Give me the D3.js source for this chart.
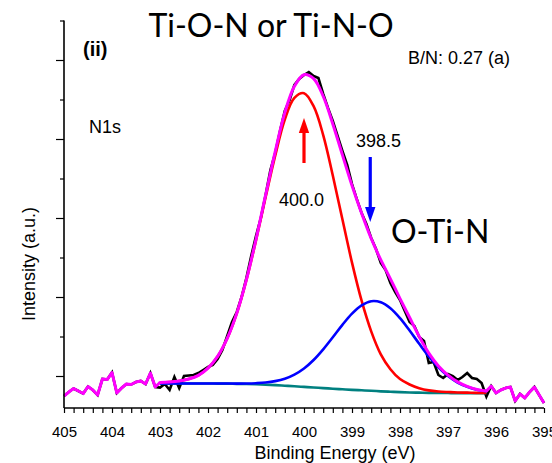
<!DOCTYPE html>
<html>
<head>
<meta charset="utf-8">
<script src="https://cdn.jsdelivr.net/npm/d3@7"></script>
<style>
  html, body { margin: 0; padding: 0; background: #fff; }
  svg { display: block; }
  text { font-family: "Liberation Sans", Arial, sans-serif; fill: #000; }
</style>
</head>
<body>
<svg id="chart" width="552" height="463"></svg>
<script>
// N1s XPS spectrum: measured counts and a two-component peak fit on a Shirley background.

// Measured spectrum, [binding energy (eV), counts]
const rawSpectrum = [
  [405.0, 747], [404.9, 797], [404.8, 842], [404.7, 810], [404.6, 778], [404.5, 867],
  [404.4, 823], [404.3, 759], [404.2, 962], [404.1, 955], [404.0, 1044], [403.9, 785],
  [403.8, 848], [403.7, 899], [403.6, 892], [403.5, 924], [403.4, 937], [403.3, 899],
  [403.2, 1038], [403.1, 861], [403.0, 854], [402.9, 899], [402.8, 823], [402.7, 987],
  [402.6, 848], [402.5, 1000], [402.4, 1006], [402.3, 1013], [402.2, 1038], [402.1, 1076],
  [402.0, 1114], [401.9, 1139], [401.8, 1215], [401.7, 1329], [401.6, 1506], [401.5, 1684],
  [401.4, 1810], [401.3, 2000], [401.2, 2240], [401.1, 2519], [401.0, 2772], [400.9, 3000],
  [400.8, 3291], [400.7, 3607], [400.6, 3823], [400.5, 4101], [400.4, 4354], [400.3, 4494],
  [400.2, 4684], [400.1, 4760], [400.0, 4810], [399.9, 4848], [399.8, 4797], [399.7, 4772],
  [399.6, 4570], [399.5, 4392], [399.4, 4228], [399.3, 4038], [399.2, 3848], [399.1, 3671],
  [399.0, 3430], [398.9, 3240], [398.8, 3063], [398.7, 2924], [398.6, 2747], [398.5, 2608],
  [398.4, 2430], [398.3, 2342], [398.2, 2177], [398.1, 2063], [398.0, 1962], [397.9, 1823],
  [397.8, 1684], [397.7, 1633], [397.6, 1494], [397.5, 1443], [397.4, 1165], [397.3, 1177],
  [397.2, 1013], [397.1, 975], [397.0, 1025], [396.9, 1000], [396.8, 949], [396.7, 987],
  [396.6, 1038], [396.5, 975], [396.4, 962], [396.3, 911], [396.2, 741], [396.1, 873],
  [396.0, 785], [395.9, 823], [395.8, 848], [395.7, 861], [395.6, 684], [395.5, 772],
  [395.4, 722], [395.3, 797], [395.2, 861], [395.1, 759], [395.0, 658]
];

// Energies of the fitted curves (fit window 403.0 - 396.2 eV)
const fitEnergy = [
  403.0, 402.8, 402.6, 402.4, 402.2, 402.0, 401.8, 401.6, 401.4, 401.2, 401.0, 400.8,
  400.6, 400.4, 400.2, 400.0, 399.8, 399.6, 399.4, 399.2, 399.0, 398.8, 398.6, 398.4,
  398.2, 398.0, 397.8, 397.6, 397.4, 397.2, 397.0, 396.8, 396.6, 396.4, 396.2
];
// Shirley background
const fitBackground = [
  905, 905, 905, 905, 905, 905, 904, 904, 901, 899, 895, 890,
  884, 877, 870, 862, 854, 847, 839, 832, 825, 819, 813, 806,
  801, 796, 792, 789, 786, 785, 784, 783, 783, 782, 782
];
// Component at 400.0 eV (Ti-O-N / Ti-N-O), on background
const fitPeak400 = [
  918, 924, 937, 962, 1008, 1099, 1247, 1475, 1793, 2214, 2716, 3262,
  3789, 4245, 4520, 4580, 4415, 4050, 3538, 2983, 2435, 1953, 1565, 1274,
  1086, 961, 893, 846, 818, 804, 797, 792, 789, 786, 785
];
// Component at 398.5 eV (O-Ti-N), on background
const fitPeak3985 = [
  905, 905, 905, 905, 905, 905, 905, 905, 904, 905, 909, 917,
  935, 966, 1018, 1096, 1203, 1338, 1491, 1648, 1790, 1895, 1947, 1934,
  1859, 1733, 1576, 1408, 1247, 1109, 999, 917, 863, 826, 806
];
// Fit envelope
const fitEnvelope = [
  918, 924, 937, 962, 1008, 1099, 1248, 1476, 1796, 2220, 2730, 3289,
  3840, 4334, 4668, 4814, 4764, 4541, 4190, 3799, 3410, 3060, 2740, 2470,
  2230, 1980, 1740, 1500, 1290, 1128, 1012, 926, 869, 830, 809
];

// Axes
const xDomain = [405, 395];
const xMajorTicks = [405, 404, 403, 402, 401, 400, 399, 398, 397, 396, 395];
const xMinorTicks = [404.8, 404.6, 404.4, 404.2, 403.8, 403.6, 403.4, 403.2, 402.8, 402.6,
  402.4, 402.2, 401.8, 401.6, 401.4, 401.2, 400.8, 400.6, 400.4, 400.2, 399.8, 399.6, 399.4,
  399.2, 398.8, 398.6, 398.4, 398.2, 397.8, 397.6, 397.4, 397.2, 396.8, 396.6, 396.4, 396.2,
  395.8, 395.6, 395.4, 395.2];
const yDomain = [595, 5500];
const yMajorTicks = [1000, 2000, 3000, 4000, 5000];
const yMinorTicks = [1500, 2500, 3500, 4500, 5500];

// Peak markers: [energy, tail counts, tip counts]
const marker400 = [400.0, 3696, 4266];
const marker3985 = [398.62, 3772, 2949];

const svg = d3.select("#chart");
const plot = { left: 64, right: 544, top: 20.5, bottom: 408 };

const x = d3.scaleLinear().domain(xDomain).range([plot.left, plot.right]);
const y = d3.scaleLinear().domain(yDomain).range([plot.bottom, plot.top]);

const fitPts = arr => fitEnergy.map((e, i) => [e, arr[i]]);
const smooth = d3.line().x(d => x(d[0])).y(d => y(d[1])).curve(d3.curveCatmullRom.alpha(0.5));
const straight = d3.line().x(d => x(d[0])).y(d => y(d[1]));

const g = svg.append("g");

// measured data
g.append("path").attr("d", straight(rawSpectrum))
  .attr("fill", "none").attr("stroke", "#000").attr("stroke-width", 2.6)
  .attr("stroke-linejoin", "miter");

// background and components
[[fitBackground, "#008080"], [fitPeak400, "#ff0000"], [fitPeak3985, "#0000ff"]].forEach(([arr, c]) => {
  g.append("path").attr("d", smooth(fitPts(arr)))
    .attr("fill", "none").attr("stroke", c).attr("stroke-width", 2.6);
});

// envelope; outside the fit window it follows the measured data
const fitStart = fitEnergy[0], fitEnd = fitEnergy[fitEnergy.length - 1];
const leftEdge = rawSpectrum.filter(d => d[0] > fitStart + 0.05).concat([[fitStart, fitEnvelope[0]]]);
const rightEdge = [[fitEnd, fitEnvelope[fitEnvelope.length - 1]]].concat(rawSpectrum.filter(d => d[0] < fitEnd - 0.05));
[leftEdge, rightEdge].forEach(seg => {
  g.append("path").attr("d", straight(seg))
    .attr("fill", "none").attr("stroke", "#ff00ff").attr("stroke-width", 3)
    .attr("stroke-linejoin", "round");
});
g.append("path").attr("d", smooth(fitPts(fitEnvelope)))
  .attr("fill", "none").attr("stroke", "#ff00ff").attr("stroke-width", 3)
  .attr("stroke-linecap", "round");

// x axis
const xAxis = g.append("g").attr("transform", `translate(0,${plot.bottom})`)
  .call(d3.axisBottom(x).tickValues(xMajorTicks).tickSize(5).tickPadding(13).tickFormat(d3.format("d")));
g.append("g").attr("transform", `translate(0,${plot.bottom})`)
  .call(d3.axisBottom(x).tickValues(xMinorTicks).tickSize(5).tickFormat(""))
  .select(".domain").remove();
xAxis.select(".domain").attr("stroke-width", 1.6).attr("d", `M${plot.left},0H${plot.right}`);
xAxis.selectAll("text").style("font-size", "15px").style("font-family", "Liberation Sans, Arial, sans-serif");

// y axis (no labels)
const yAxis = g.append("g").attr("transform", `translate(${plot.left},0)`)
  .call(d3.axisLeft(y).tickValues(yMajorTicks).tickSize(8).tickFormat(""));
g.append("g").attr("transform", `translate(${plot.left},0)`)
  .call(d3.axisLeft(y).tickValues(yMinorTicks).tickSize(4).tickFormat(""))
  .select(".domain").remove();
yAxis.select(".domain").attr("stroke-width", 1.6).attr("d", `M0,${plot.top}V${plot.bottom}`);
g.selectAll(".tick line").attr("stroke-width", 1.2);

// axis titles
svg.append("text").attr("x", 335).attr("y", 459).attr("text-anchor", "middle")
  .style("font-size", "18px").text("Binding Energy (eV)");
svg.append("text").attr("transform", "translate(35,264) rotate(-90)").attr("text-anchor", "middle")
  .style("font-size", "18px").text("Intensity (a.u.)");

// peak markers
function marker(m, color) {
  const xe = x(m[0]), y0 = y(m[1]), y1 = y(m[2]);
  const dir = y1 < y0 ? -1 : 1;
  const head = 15, half = 5.2;
  g.append("line").attr("x1", xe).attr("x2", xe).attr("y1", y0).attr("y2", y1 - dir * head + dir * 1)
    .attr("stroke", color).attr("stroke-width", 3.2);
  g.append("path")
    .attr("d", `M${xe},${y1}L${xe - half},${y1 - dir * head}L${xe + half},${y1 - dir * head}Z`)
    .attr("fill", color);
}
marker(marker400, "#ff0000");
marker(marker3985, "#0000ff");

// annotations
const calibri = "Lato, 'Open Sans', sans-serif";
svg.append("text").attr("x", 271).attr("y", 37).attr("text-anchor", "middle")
  .style("font-family", calibri).style("font-size", "32px").text("Ti-O-N or Ti-N-O");
svg.append("text").attr("x", 391).attr("y", 243)
  .style("font-family", calibri).style("font-size", "32px").text("O-Ti-N");
svg.append("text").attr("x", 83).attr("y", 56).style("font-size", "20px").style("font-weight", "bold").text("(ii)");
svg.append("text").attr("x", 408).attr("y", 64).style("font-size", "18px").text("B/N: 0.27 (a)");
svg.append("text").attr("x", 89).attr("y", 133).style("font-size", "18px").text("N1s");
svg.append("text").attr("x", 279).attr("y", 206).style("font-size", "18px").text("400.0");
svg.append("text").attr("x", 356).attr("y", 147).style("font-size", "18px").text("398.5");
</script>
</body>
</html>
